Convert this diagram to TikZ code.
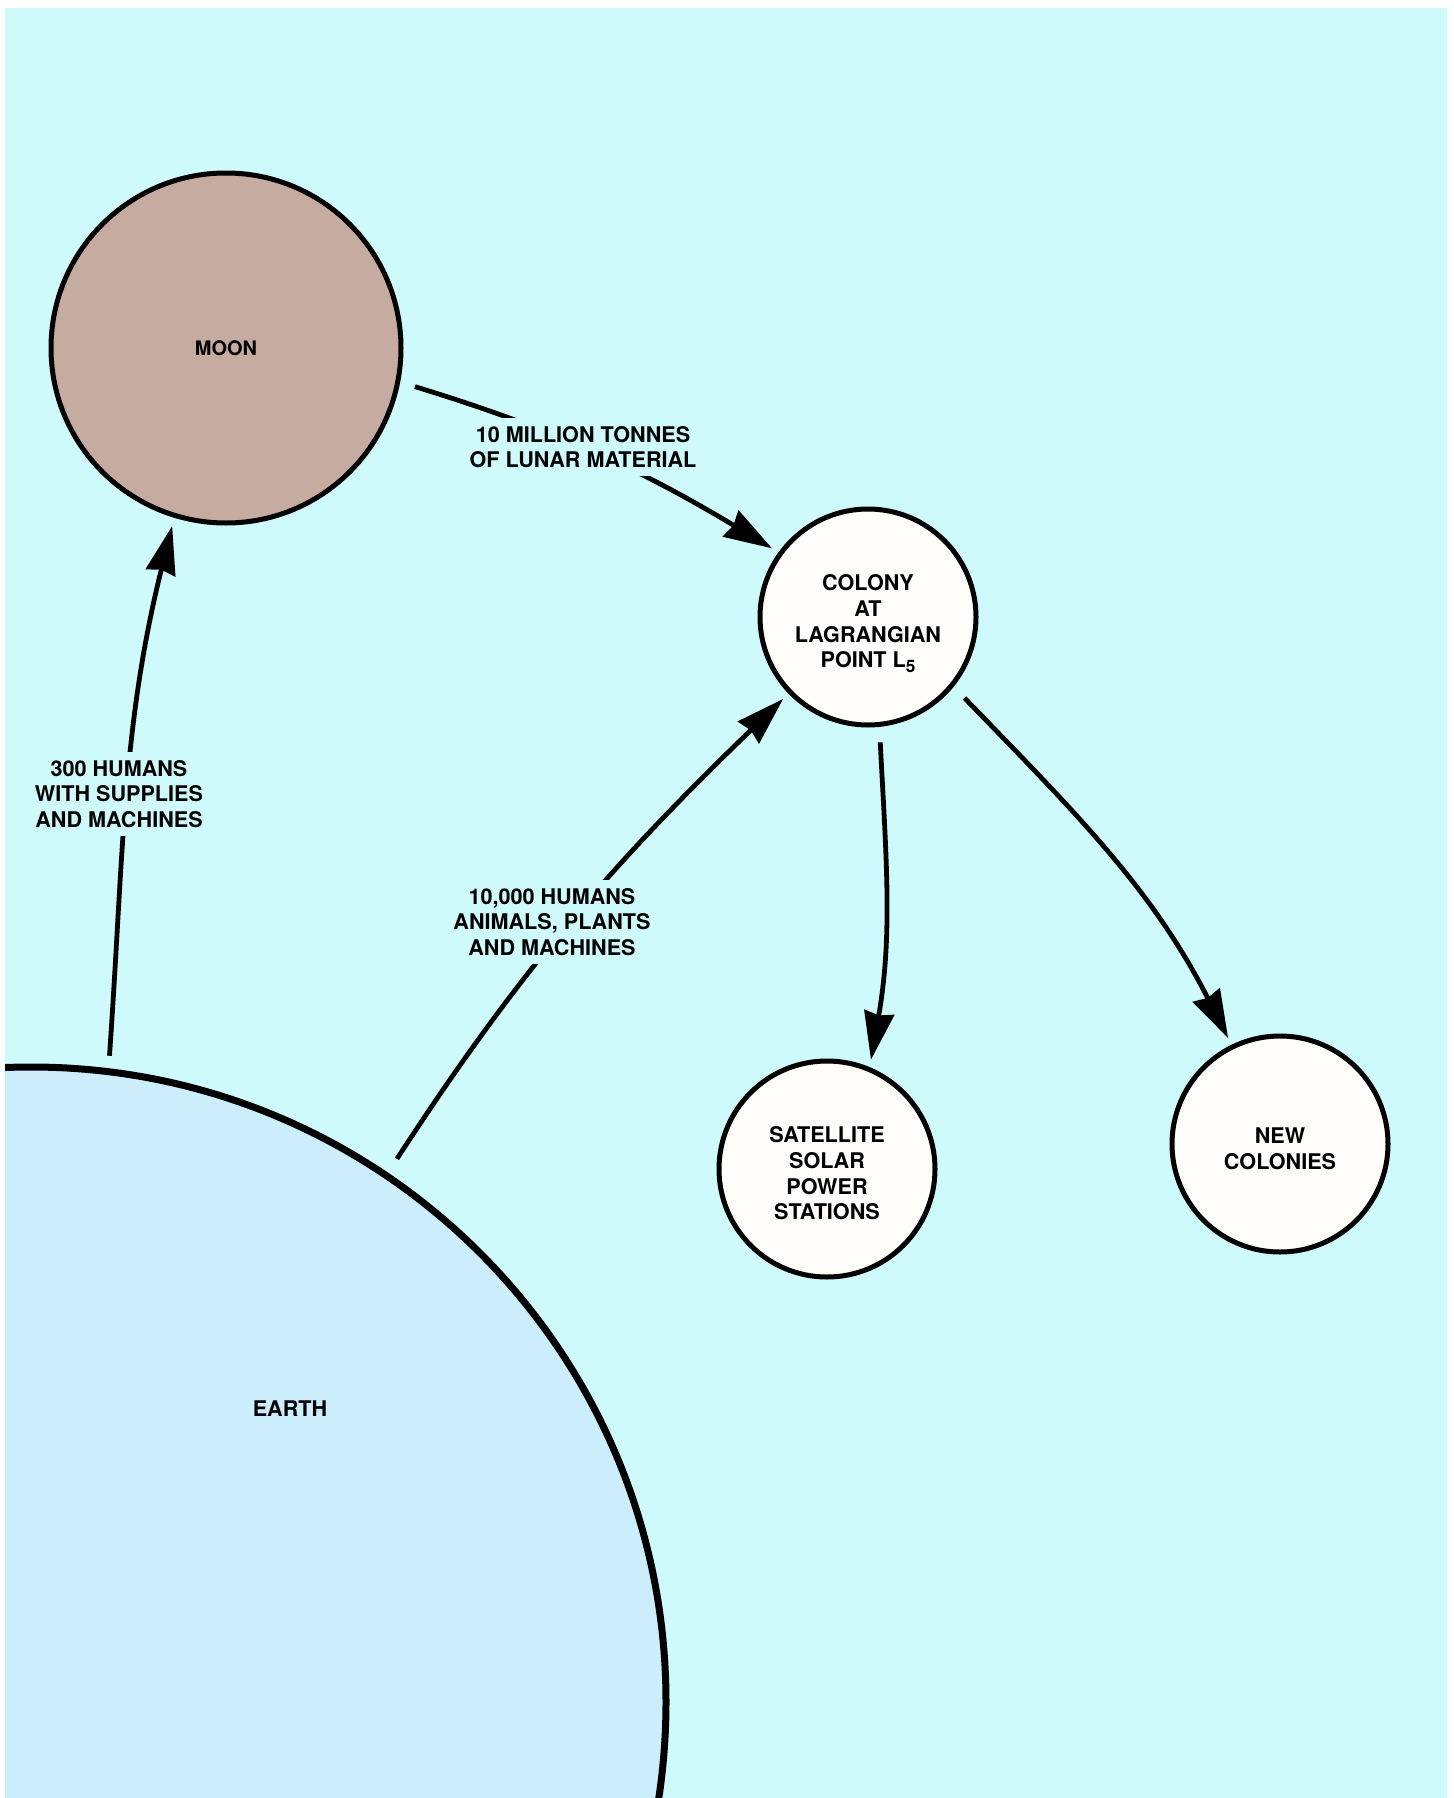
\documentclass[tikz,border=0pt]{standalone}
\usepackage{fontspec}
\setmainfont{TeX Gyre Heros}
\usetikzlibrary{arrows.meta}
\definecolor{spacecyan}{RGB}{207,250,252}
\definecolor{earthblue}{RGB}{204,237,252}
\definecolor{moongrey}{RGB}{197,171,160}
\definecolor{colonywhite}{RGB}{255,253,250}
\newcommand{\toppad}{\rule{0pt}{12.4pt}}
\newcommand{\lowfive}{\smash{\raisebox{-2.2pt}{\fontsize{8.6}{9}\selectfont 5}}}
\begin{document}
\begin{tikzpicture}[x=0.5pt,y=-0.5pt,
  body/.style={circle,draw=black,line width=2.5pt,inner sep=0pt,outer sep=0pt,
    align=center,font=\fontsize{10.8}{12.8}\selectfont\bfseries},
  station/.style={body,fill=colonywhite,minimum size=108pt},
  flow/.style={line width=2.4pt,-{Stealth[length=24pt,width=15pt,inset=1.5pt]}},
  tag/.style={fill=spacecyan,inner sep=4pt,align=center,font=\fontsize{10.8}{12.8}\selectfont\bfseries}]
\useasboundingbox (0,0) rectangle (1454,1798);
\clip (5,8) rectangle (1447,1798);
\fill[spacecyan] (5,8) rectangle (1447,1798);
% bodies
\node[body,fill=earthblue,line width=3.5pt,minimum size=635pt] (earth) at (31,1702) {};
\node[body,fill=moongrey,minimum size=175pt,font=\fontsize{10}{12}\selectfont\bfseries] (moon) at (226,348) {MOON};
\node[station] (colony) at (868,617) {\toppad COLONY\\AT\\LAGRANGIAN\\POINT L\lowfive};
\node[station] (solar) at (827,1169) {\toppad SATELLITE\\SOLAR\\POWER\\STATIONS};
\node[station] (newcol) at (1280,1144) {\toppad NEW\\COLONIES};
\draw (290,1409) node[tag,fill=none] (earthlbl) {EARTH};
% transport
\draw[flow,shorten <=8pt,shorten >=5.5pt] (earth.83.6) to[out=86,in=-104] (moon.-107.8);
\draw[flow,shorten <=9pt,shorten >=5pt] (moon.-11.9) to[out=-17,in=149] (colony.144.3);
\draw[flow,shorten <=10pt,shorten >=5pt] (earth.56.4) to[out=57,in=224] (colony.-136.7);
\draw[flow,shorten <=9pt,shorten >=5pt] (colony.-84.5) to[out=-87,in=80] (solar.67.1);
\draw[flow,shorten <=9pt,shorten >=5pt] (colony.-39) to[out=-46,in=117] (newcol.116.1);
% cargo
\draw (583,447) node[tag] (tonnes) {10 MILLION TONNES\\OF LUNAR MATERIAL};
\draw (119,794) node[tag] (crew) {300 HUMANS\\WITH SUPPLIES\\AND MACHINES};
\draw (552,922) node[tag] (settlers) {10,000 HUMANS\\ANIMALS, PLANTS\\AND MACHINES};
\end{tikzpicture}
\end{document}
